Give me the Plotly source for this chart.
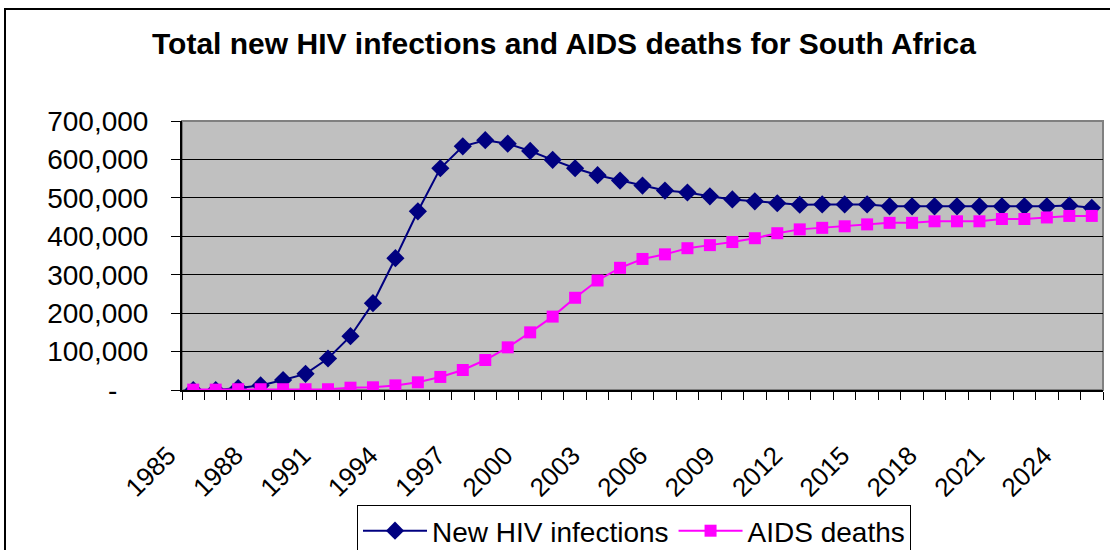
import plotly.graph_objects as go

years = list(range(1985, 2026))

new_infections = [
    0, 0, 5000, 12000, 26000, 42000, 82000, 140000, 226000, 343000,
    465000, 577000, 634000, 650000, 641000, 622000, 599000, 577000, 559000, 545000,
    532000, 519000, 514000, 504000, 496000, 491000, 486000, 482000, 483000, 483000,
    483000, 478000, 478000, 478000, 478000, 478000, 478000, 478000, 478000, 480000,
    474000,
]

aids_deaths = [
    1000, 1000, 2000, 2000, 2000, 2000, 2000, 6000, 7000, 12000,
    20000, 34000, 52000, 78000, 111000, 150000, 191000, 240000, 285000, 318000,
    341000, 353000, 369000, 377000, 385000, 395000, 408000, 418000, 422000, 426000,
    431000, 435000, 435000, 439000, 439000, 439000, 445000, 445000, 449000, 453000,
    453000,
]

label_years = list(range(1985, 2026, 3))
y_ticks = [0, 100000, 200000, 300000, 400000, 500000, 600000, 700000]
y_labels = ["-" + "\u00a0" * 4] + [f"{v:,}" for v in y_ticks[1:]]

FONT = "Liberation Sans, Arial, sans-serif"

# plot area in pixels: left 182, right 1103, top 121, bottom 390
L, R, T, B = 182, 7, 121, 160
PW, PH = 1110 - L - R, 550 - T - B


def px_x(p):
    return (p - L) / PW


def px_y(p):
    return (550 - B - p) / PH


fig = go.Figure()

fig.add_trace(go.Scatter(
    x=years, y=new_infections, mode="lines+markers", name="New HIV infections",
    line=dict(color="#000080", width=2),
    marker=dict(symbol="diamond", size=14, color="#000080"),
))

fig.add_trace(go.Scatter(
    x=years, y=aids_deaths, mode="lines+markers", name="AIDS deaths",
    line=dict(color="#FF00FF", width=2),
    marker=dict(symbol="square", size=12, color="#FF00FF"),
))

fig.update_layout(
    width=1110, height=550,
    margin=dict(l=L, r=R, t=T, b=B, autoexpand=False),
    paper_bgcolor="white",
    plot_bgcolor="#C0C0C0",
    font=dict(family=FONT, size=25, color="black"),
    title=dict(
        text="<b>Total new HIV infections and AIDS deaths for South Africa</b>",
        x=564 / 1110, xref="container", xanchor="center",
        y=1 - 43 / 550, yref="container", yanchor="middle",
        font=dict(family=FONT, size=30, color="black"),
    ),
    showlegend=True,
    legend=dict(
        orientation="h", x=px_x(357), y=px_y(505), xanchor="left", yanchor="top",
        bordercolor="black", borderwidth=1, bgcolor="white",
        itemwidth=64,
        font=dict(family=FONT, size=28, color="black"),
    ),
    shapes=[
        # grey plot border (top/right)
        dict(type="rect", xref="paper", yref="paper", x0=0, x1=1, y0=0, y1=1,
             line=dict(color="#808080", width=2), layer="below"),
        # outer chart frame
        dict(type="rect", xref="paper", yref="paper",
             x0=px_x(5), x1=px_x(1120), y0=px_y(565), y1=px_y(9),
             line=dict(color="black", width=2), fillcolor="rgba(0,0,0,0)"),
    ],
)

fig.update_xaxes(
    range=[1984.5, 2025.5],
    tickmode="array", tickvals=label_years, ticktext=[str(y) for y in label_years],
    ticks="", tickangle=-45, ticklabelshift=-25, ticklabelstandoff=38,
    tickfont=dict(size=26),
    showgrid=False, zeroline=False,
    showline=True, linecolor="black", linewidth=2,
    minor=dict(tick0=1984.5, dtick=1, ticks="outside", ticklen=8,
               tickcolor="black", tickwidth=1, showgrid=False),
)

fig.update_yaxes(
    range=[0, 700000],
    tickmode="array", tickvals=y_ticks, ticktext=y_labels,
    ticks="outside", ticklen=9, tickcolor="black", tickwidth=1,
    ticklabelstandoff=17, tickfont=dict(size=28),
    showgrid=True, gridcolor="black", gridwidth=1,
    zeroline=False,
    showline=True, linecolor="black", linewidth=2,
)

# drop the default 8px page margin so the chart sits at the window's corner
fig.write_html(
    "out.html",
    config={"displayModeBar": False},
    post_script="document.body.style.margin='0px';",
)
